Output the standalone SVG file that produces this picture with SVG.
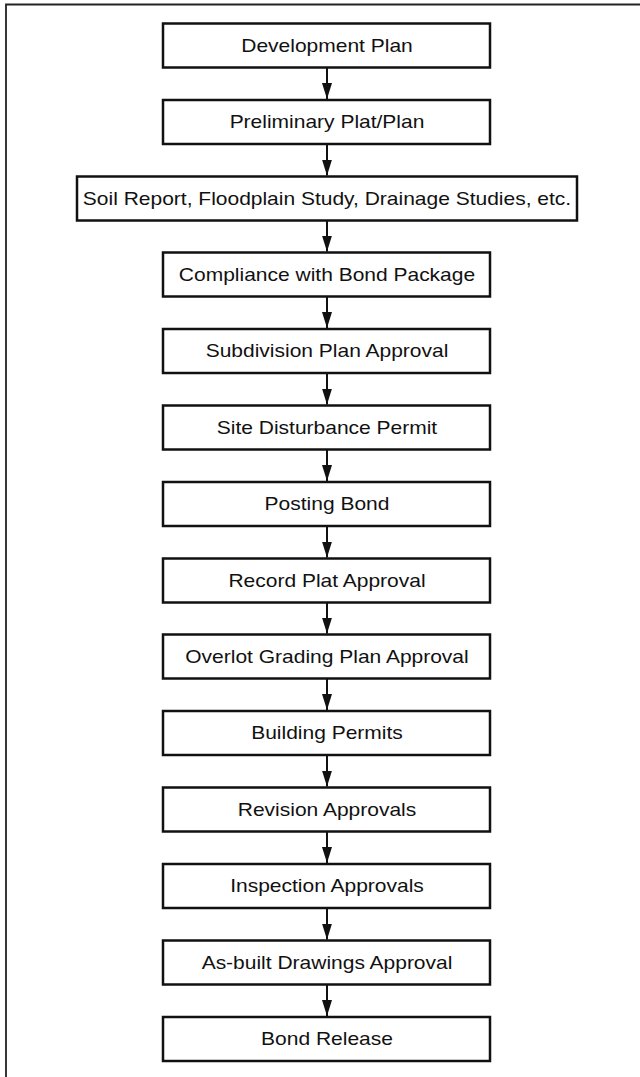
<svg xmlns="http://www.w3.org/2000/svg" width="640" height="1077" viewBox="0 0 640 1077">
<defs>
<style>
.box{fill:#fff;stroke:#111;stroke-width:2.5}
.lbl{font-family:"Liberation Sans",Arial,sans-serif;font-size:17.5px;fill:#111;text-anchor:middle}
.con{stroke:#111;stroke-width:2;fill:none}
.frame{stroke:#222;stroke-width:1.8;fill:none}
</style>
<marker id="ah" markerUnits="userSpaceOnUse" markerWidth="16" markerHeight="10" refX="16" refY="5" orient="auto" viewBox="0 0 16 10">
<path d="M0,0 L16,5 L0,10 z" fill="#111"/>
</marker>
</defs>
<rect width="640" height="1077" fill="#fff"/>
<path class="frame" d="M6,1077 V4.5 H640"/>
<g id="n1"><rect class="box" x="163" y="23.5" width="327" height="44"/><text class="lbl" transform="translate(327 51.5) scale(1.2 1)">Development Plan</text></g>
<g id="n2"><rect class="box" x="163" y="100" width="327" height="44"/><text class="lbl" transform="translate(327 128) scale(1.2 1)">Preliminary Plat/Plan</text></g>
<g id="n3"><rect class="box" x="77" y="176.5" width="500" height="44"/><text class="lbl" transform="translate(327 204.5) scale(1.2 1)">Soil Report, Floodplain Study, Drainage Studies, etc.</text></g>
<g id="n4"><rect class="box" x="163" y="252.5" width="327" height="44"/><text class="lbl" transform="translate(327 280.5) scale(1.2 1)">Compliance with Bond Package</text></g>
<g id="n5"><rect class="box" x="163" y="329" width="327" height="44"/><text class="lbl" transform="translate(327 357) scale(1.2 1)">Subdivision Plan Approval</text></g>
<g id="n6"><rect class="box" x="163" y="405.5" width="327" height="44"/><text class="lbl" transform="translate(327 433.5) scale(1.2 1)">Site Disturbance Permit</text></g>
<g id="n7"><rect class="box" x="163" y="482" width="327" height="44"/><text class="lbl" transform="translate(327 510) scale(1.2 1)">Posting Bond</text></g>
<g id="n8"><rect class="box" x="163" y="558.5" width="327" height="44"/><text class="lbl" transform="translate(327 586.5) scale(1.2 1)">Record Plat Approval</text></g>
<g id="n9"><rect class="box" x="163" y="634.5" width="327" height="44"/><text class="lbl" transform="translate(327 662.5) scale(1.2 1)">Overlot Grading Plan Approval</text></g>
<g id="n10"><rect class="box" x="163" y="711" width="327" height="44"/><text class="lbl" transform="translate(327 739) scale(1.2 1)">Building Permits</text></g>
<g id="n11"><rect class="box" x="163" y="787.5" width="327" height="44"/><text class="lbl" transform="translate(327 815.5) scale(1.2 1)">Revision Approvals</text></g>
<g id="n12"><rect class="box" x="163" y="864" width="327" height="44"/><text class="lbl" transform="translate(327 892) scale(1.2 1)">Inspection Approvals</text></g>
<g id="n13"><rect class="box" x="163" y="940.5" width="327" height="44"/><text class="lbl" transform="translate(327 968.5) scale(1.2 1)">As-built Drawings Approval</text></g>
<g id="n14"><rect class="box" x="163" y="1017" width="327" height="44"/><text class="lbl" transform="translate(327 1045) scale(1.2 1)">Bond Release</text></g>
<g id="connectors">
<line class="con" marker-end="url(#ah)" x1="327" y1="67.5" x2="327" y2="99"/>
<line class="con" marker-end="url(#ah)" x1="327" y1="144" x2="327" y2="175.5"/>
<line class="con" marker-end="url(#ah)" x1="327" y1="220.5" x2="327" y2="251.5"/>
<line class="con" marker-end="url(#ah)" x1="327" y1="296.5" x2="327" y2="328"/>
<line class="con" marker-end="url(#ah)" x1="327" y1="373" x2="327" y2="404.5"/>
<line class="con" marker-end="url(#ah)" x1="327" y1="449.5" x2="327" y2="481"/>
<line class="con" marker-end="url(#ah)" x1="327" y1="526" x2="327" y2="557.5"/>
<line class="con" marker-end="url(#ah)" x1="327" y1="602.5" x2="327" y2="633.5"/>
<line class="con" marker-end="url(#ah)" x1="327" y1="678.5" x2="327" y2="710"/>
<line class="con" marker-end="url(#ah)" x1="327" y1="755" x2="327" y2="786.5"/>
<line class="con" marker-end="url(#ah)" x1="327" y1="831.5" x2="327" y2="863"/>
<line class="con" marker-end="url(#ah)" x1="327" y1="908" x2="327" y2="939.5"/>
<line class="con" marker-end="url(#ah)" x1="327" y1="984.5" x2="327" y2="1016"/>
</g>
</svg>
